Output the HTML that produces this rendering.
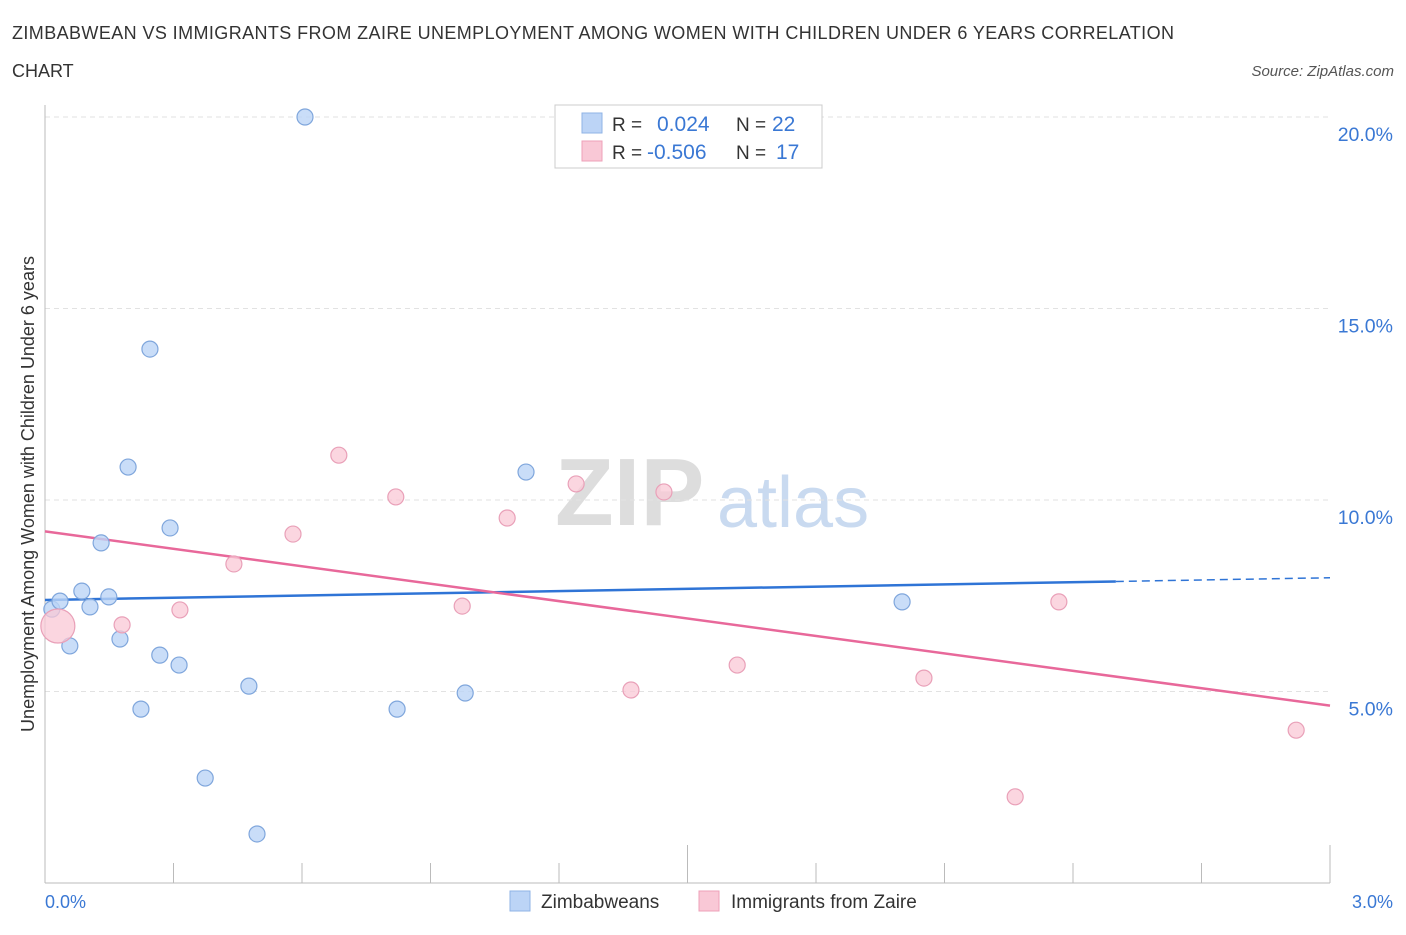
<!DOCTYPE html>
<html><head><meta charset="utf-8">
<style>
body{margin:0;background:#fff;font-family:"Liberation Sans",sans-serif;}
svg text{font-family:"Liberation Sans",sans-serif;}
</style></head>
<body>
<svg id="chart" width="1406" height="930" xmlns="http://www.w3.org/2000/svg">
<text x="12" y="39" font-size="18" fill="#333" textLength="1162" lengthAdjust="spacing">ZIMBABWEAN VS IMMIGRANTS FROM ZAIRE UNEMPLOYMENT AMONG WOMEN WITH CHILDREN UNDER 6 YEARS CORRELATION</text>
<text x="12" y="77" font-size="18" fill="#333">CHART</text>
<text x="1394" y="76" font-size="15" fill="#555" font-style="italic" text-anchor="end">Source: ZipAtlas.com</text>
<g>
<text x="555" y="525" font-size="96" fill="#ddd" font-family="Liberation Serif" font-weight="bold">ZIP</text>
<text x="717" y="527" font-size="72" fill="#c9daf0">atlas</text>
</g>
<g id="grid"></g>
<g id="axes"></g>
<g id="trends"></g>
<g id="points"></g>
<text transform="translate(34,494) rotate(-90)" font-size="18" fill="#333" text-anchor="middle">Unemployment Among Women with Children Under 6 years</text>
<text x="45" y="908" font-size="18" fill="#3a78d4">0.0%</text>
<text x="1393" y="908" font-size="18" fill="#3a78d4" text-anchor="end">3.0%</text>
<g>
<rect x="555" y="105" width="267" height="63" fill="#fff" stroke="#ccc"/>
<rect x="582" y="113" width="20" height="20" fill="#bcd4f6" stroke="#8fb3e6"/>
<rect x="582" y="141" width="20" height="20" fill="#f9c8d6" stroke="#eea0b8"/>
<text x="612" y="131" font-size="19" fill="#333">R =</text>
<text x="657" y="131" font-size="21" fill="#3a78d4">0.024</text>
<text x="736" y="131" font-size="19" fill="#333">N =</text>
<text x="772" y="131" font-size="21" fill="#3a78d4">22</text>
<text x="612" y="159" font-size="19" fill="#333">R =</text>
<text x="647" y="159" font-size="21" fill="#3a78d4">-0.506</text>
<text x="736" y="159" font-size="19" fill="#333">N =</text>
<text x="776" y="159" font-size="21" fill="#3a78d4">17</text>
</g>
<g>
<rect x="510" y="891" width="20" height="20" fill="#bcd4f6" stroke="#8fb3e6"/>
<text x="541" y="908" font-size="19" fill="#333">Zimbabweans</text>
</g>
<g>
<rect x="699" y="891" width="20" height="20" fill="#f9c8d6" stroke="#eea0b8"/>
<text x="731" y="908" font-size="19" fill="#333">Immigrants from Zaire</text>
</g>
</svg>
<script>
const yTicks=[5,10,15,20];
const yTickLabels=["5.0%","10.0%","15.0%","20.0%"];
const xTicks=[0,0.3,0.6,0.9,1.2,1.5,1.8,2.1,2.4,2.7,3.0];
const blueX=[0.016,0.035,0.058,0.086,0.105,0.131,0.149,0.175,0.194,0.224,0.245,0.268,0.292,0.313,0.374,0.476,0.495,0.607,0.822,0.981,1.123,2.001];
const blueY=[7.15,7.36,6.19,7.62,7.21,8.88,7.47,6.37,10.86,4.54,13.94,5.95,9.27,5.69,2.74,5.14,1.28,20.0,4.54,4.96,10.73,7.34];
const pinkX=[0.030,0.180,0.315,0.441,0.579,0.686,0.819,0.974,1.079,1.240,1.368,1.445,1.616,2.052,2.265,2.367,2.921];
const pinkY=[6.71,6.74,7.13,8.33,9.11,11.17,10.08,7.23,9.53,10.42,5.04,10.21,5.69,5.35,2.25,7.34,3.99];
const blueTrend=[7.39,7.97]; const blueSolidEnd=2.5;
const pinkTrend=[9.18,4.63];
const sx=v=>45+v/3*1285, sy=v=>883-v/5*191.5;
const NS="http://www.w3.org/2000/svg";
function mk(p,t,a){const e=document.createElementNS(NS,t);for(const k in a)e.setAttribute(k,a[k]);document.getElementById(p).appendChild(e);return e;}
yTicks.forEach((t,i)=>{
 const l=mk('grid','line',{x1:45,x2:1330,y1:sy(t),y2:sy(t),stroke:'#e2e2e2','stroke-dasharray':'5,4'});
 
 
 const tx=mk('grid','text',{x:1393,y:sy(t)+24,'font-size':19.5,fill:'#3a78d4','text-anchor':'end'});
 tx.textContent=yTickLabels[i];
 
 
});
const ax=mk('axes','line',{x1:45,x2:45,y1:105,y2:883,stroke:'#bbb'});


const bx=mk('axes','line',{x1:45,x2:1330,y1:883,y2:883,stroke:'#bbb'});


xTicks.forEach((t,i)=>{const l=mk('axes','line',{x1:sx(t),x2:sx(t),y1:(i===5||i===10)?845:863,y2:883,stroke:'#bbb'});
 
 });
const slope=(blueTrend[1]-blueTrend[0])/3;
let t1=mk('trends','line',{x1:sx(0),y1:sy(blueTrend[0]),x2:sx(blueSolidEnd),y2:sy(blueTrend[0]+slope*blueSolidEnd),stroke:'#2f74d6','stroke-width':2.5});


let t2=mk('trends','line',{x1:sx(blueSolidEnd),y1:sy(blueTrend[0]+slope*blueSolidEnd),x2:sx(3),y2:sy(blueTrend[1]),stroke:'#2f74d6','stroke-width':1.5,'stroke-dasharray':'8,5'});


let t3=mk('trends','line',{x1:sx(0),y1:sy(pinkTrend[0]),x2:sx(3),y2:sy(pinkTrend[1]),stroke:'#e8689a','stroke-width':2.5});


blueX.forEach((x,i)=>{const c=mk('points','circle',{cx:sx(x),cy:sy(blueY[i]),r:8,fill:'#bcd4f6','fill-opacity':0.8,stroke:'#7fa6dc','stroke-width':1.2});
 
 });
pinkX.forEach((x,i)=>{const c=mk('points','circle',{cx:sx(x),cy:sy(pinkY[i]),r:i===0?17:8,fill:'#f9c8d6','fill-opacity':0.75,stroke:'#e9a0b8','stroke-width':1.2});
 
 });
</script>
</body></html>
